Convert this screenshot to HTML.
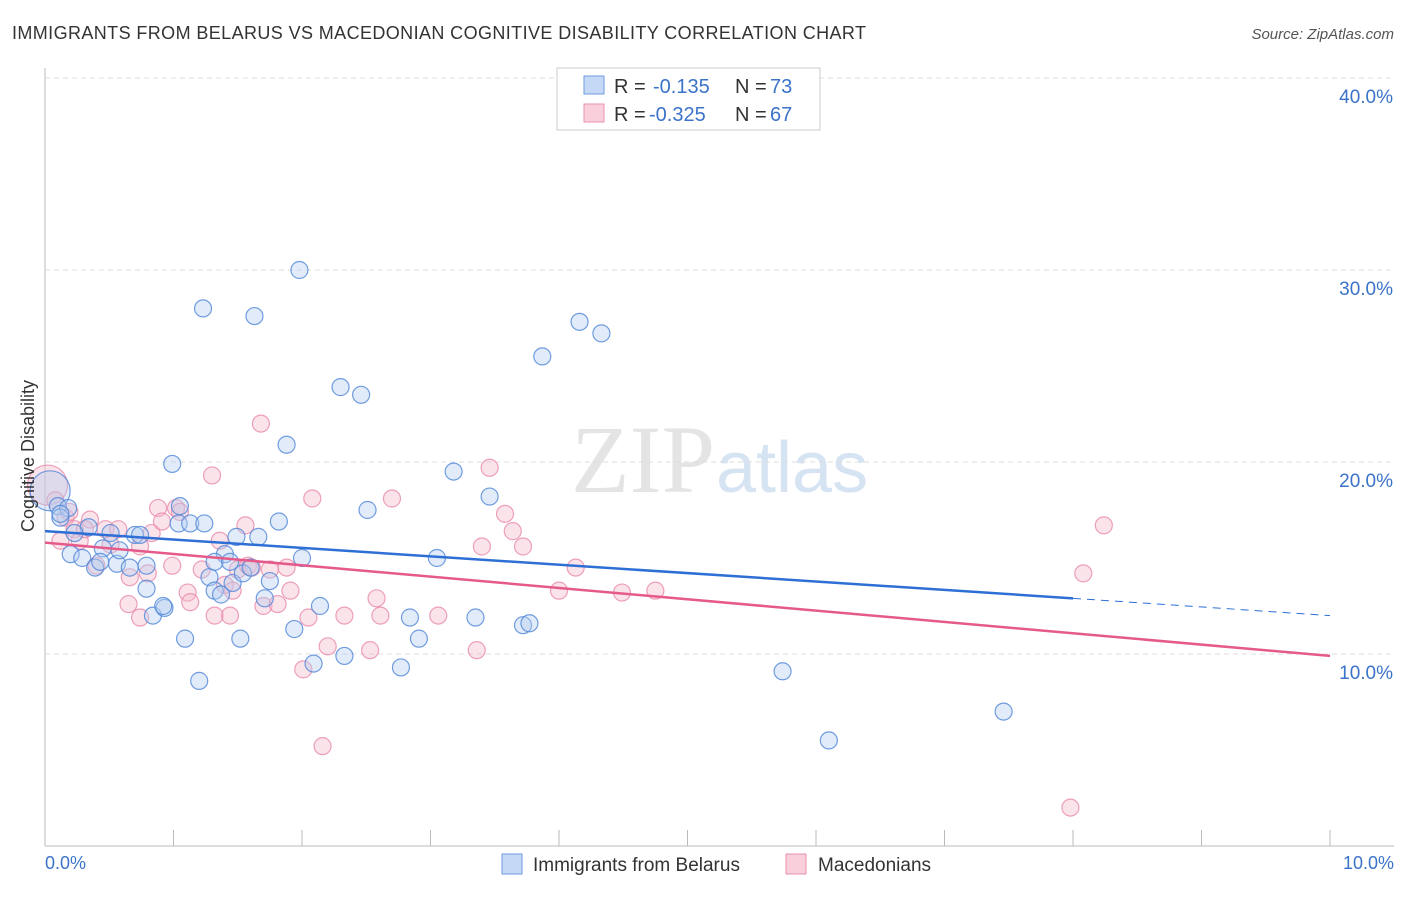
<!DOCTYPE html>
<html><head><meta charset="utf-8"><style>
body{margin:0;background:#fff;font-family:"Liberation Sans",sans-serif}
</style></head><body>
<svg id="c" width="1406" height="892">
<text x="12" y="39" font-size="18" fill="#333" textLength="854">IMMIGRANTS FROM BELARUS VS MACEDONIAN COGNITIVE DISABILITY CORRELATION CHART</text>
<text x="1394" y="39" font-size="15" fill="#555" text-anchor="end" font-style="italic">Source: ZipAtlas.com</text>
<text x="715" y="492" font-size="96" fill="#e4e4e4" text-anchor="end" font-family="Liberation Serif">ZIP</text>
<text x="716" y="492" font-size="72" fill="#d6e3f3">atlas</text>
<g id="grid"></g><g id="pts"></g><g id="lines"></g>
<text x="34" y="456" font-size="18" fill="#333" text-anchor="middle" transform="rotate(-90 34 456)">Cognitive Disability</text>
<text x="45" y="869" font-size="18" fill="#3b73c9">0.0%</text>
<text x="1394" y="869" font-size="18" fill="#3b73c9" text-anchor="end">10.0%</text>
<g>
<rect x="557" y="68" width="263" height="62" fill="#fff" stroke="#ccc"/>
<rect x="584" y="76" width="20" height="18" fill="#c5d8f5" stroke="#6f9be0"/>
<rect x="584" y="104" width="20" height="18" fill="#f9cfdc" stroke="#e891ae"/>
<text x="614" y="93" font-size="20" fill="#333">R =</text>
<text x="653" y="93" font-size="20" fill="#3b73c9">-0.135</text>
<text x="735" y="93" font-size="20" fill="#333">N =</text>
<text x="770" y="93" font-size="20" fill="#3b73c9">73</text>
<text x="614" y="121" font-size="20" fill="#333">R =</text>
<text x="649" y="121" font-size="20" fill="#3b73c9">-0.325</text>
<text x="735" y="121" font-size="20" fill="#333">N =</text>
<text x="770" y="121" font-size="20" fill="#3b73c9">67</text>
</g>
<g>
<rect x="502" y="854" width="20" height="20" fill="#c5d8f5" stroke="#6f9be0"/>
<text x="533" y="871" font-size="19" fill="#333">Immigrants from Belarus</text>
<rect x="786" y="854" width="20" height="20" fill="#f9cfdc" stroke="#e891ae"/>
<text x="818" y="871" font-size="19" fill="#333">Macedonians</text>
</g>
</svg>
<script>
const yTicks=[10,20,30,40];
const blueX=[0.04,0.1,0.18,0.12,0.34,0.2,0.29,0.39,0.45,0.51,0.56,0.66,0.7,0.74,0.79,0.79,0.84,0.93,0.92,0.99,1.04,1.09,1.13,1.2,1.23,1.24,1.28,1.32,1.37,1.4,1.46,1.49,1.52,1.54,1.6,1.63,1.66,1.71,1.75,1.82,1.88,1.94,1.98,2.0,2.09,2.14,2.3,2.33,2.46,2.51,2.77,2.84,2.91,3.05,3.18,3.35,3.46,3.72,3.77,3.87,4.16,4.33,5.74,6.1,7.46,0.12,0.23,0.43,0.58,1.32,1.05,1.44];
const blueY=[18.5,17.7,17.6,17.1,16.6,15.2,15.0,14.5,15.5,16.3,14.7,14.5,16.2,16.2,13.4,14.6,12.0,12.4,12.5,19.9,16.8,10.8,16.8,8.6,28.0,16.8,14.0,13.3,13.1,15.2,13.7,16.1,10.8,14.2,14.5,27.6,16.1,12.9,13.8,16.9,20.9,11.3,30.0,15.0,9.5,12.5,23.9,9.9,23.5,17.5,9.3,11.9,10.8,15.0,19.5,11.9,18.2,11.5,11.6,25.5,27.3,26.7,9.1,5.5,7.0,17.3,16.3,14.8,15.4,14.8,17.7,14.8];
const pinkX=[0.02,0.08,0.16,0.23,0.27,0.4,0.47,0.57,0.65,0.66,0.74,0.8,0.83,0.88,0.91,0.99,1.02,1.05,1.11,1.13,1.22,1.3,1.32,1.36,1.4,1.46,1.5,1.56,1.58,1.61,1.68,1.7,1.75,1.81,1.88,2.01,2.05,2.08,2.16,2.2,2.33,2.53,2.58,2.61,2.7,3.06,3.36,3.46,3.58,3.64,3.72,3.4,4.0,4.13,4.49,4.75,7.98,8.08,8.24,0.19,0.35,0.51,0.12,0.74,1.44,1.91,0.31];
const pinkY=[18.8,18.0,17.1,16.5,15.9,14.6,16.5,16.5,12.6,14.0,15.6,14.2,16.3,17.6,16.9,14.6,17.6,17.4,13.2,12.7,14.4,19.3,12.0,15.9,13.6,13.3,14.4,16.7,14.6,14.5,22.0,12.5,14.4,12.6,14.5,9.2,11.9,18.1,5.2,10.4,12.0,10.2,12.9,12.0,18.1,12.0,10.2,19.7,17.3,16.4,15.6,15.6,13.3,14.5,13.2,13.3,2.0,14.2,16.7,17.4,17.0,15.7,15.9,11.9,12.0,13.3,16.5];
const blueTrend=[[0,16.4],[8,12.9]], blueDash=[[8,12.9],[10,12.0]], pinkTrend=[[0,15.8],[10,9.9]];
const X=v=>45+v*128.5, Y=v=>846-v*19.2;
const NS='http://www.w3.org/2000/svg';
function mk(t,a,p){const e=document.createElementNS(NS,t);for(const k in a)e.setAttribute(k,a[k]);p.appendChild(e);return e;}
const grid=document.getElementById('grid');
mk('line',{x1:45,y1:68,x2:45,y2:846,stroke:'#bbb'},grid);
mk('line',{x1:45,y1:846,x2:1394,y2:846,stroke:'#bbb'},grid);
for(let i=0;i<=10;i++){const l=mk('line',{x1:X(i),y1:830,x2:X(i),y2:846,stroke:'#bbb'},grid);

}
yTicks.forEach(t=>{const g=mk('line',{x1:45,y1:Y(t),x2:1394,y2:Y(t),stroke:'#ddd','stroke-dasharray':'5,4'},grid);


const tx=mk('text',{x:1393,y:Y(t)+25,'font-size':19,fill:'#3b73c9','text-anchor':'end'},grid);tx.textContent=t.toFixed(1)+'%';

});
const pts=document.getElementById('pts');
function draw(xs,ys,fill,st,name){xs.forEach((x,i)=>{const big=i==0;const c=mk('circle',{cx:X(x),cy:Y(ys[i]),r:big?20:8.5,fill:fill,'fill-opacity':0.4,stroke:st,'stroke-opacity':0.8,'stroke-width':1.2},pts);

});}
draw(pinkX,pinkY,'#f5b8cb','#e98aab','macedonians-point');
draw(blueX,blueY,'#b5cdf0','#4f86d8','belarus-point');
const lines=document.getElementById('lines');
function ln(p,c,w,d,name){const l=mk('line',{x1:X(p[0][0]),y1:Y(p[0][1]),x2:X(p[1][0]),y2:Y(p[1][1]),stroke:c,'stroke-width':w},lines);if(d)l.setAttribute('stroke-dasharray',d);

}
ln(blueTrend,'#2e6fd6',2.5,null,'belarus-trend-line');
ln(blueDash,'#2e6fd6',1,'8,6','belarus-trend-extension');
ln(pinkTrend,'#e55a8a',2.5,null,'macedonians-trend-line');
</script>
</body></html>
